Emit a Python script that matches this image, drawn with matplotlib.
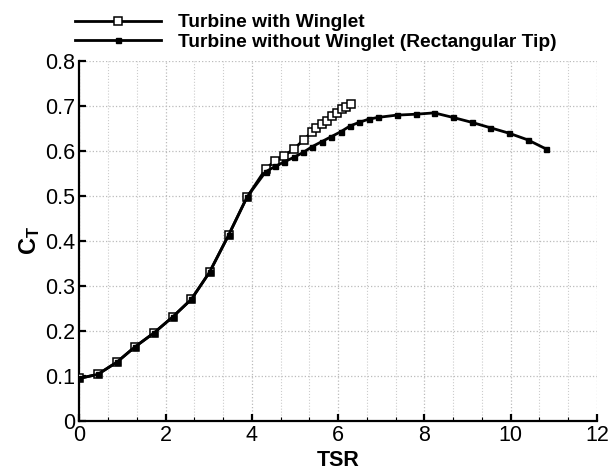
import matplotlib
matplotlib.use("Agg")
import matplotlib.pyplot as plt
from matplotlib.ticker import MultipleLocator

plt.rcParams['font.family'] = ['Liberation Sans', 'DejaVu Sans']
plt.rcParams['mathtext.fontset'] = 'custom'
plt.rcParams['mathtext.rm'] = 'Liberation Sans'
plt.rcParams['mathtext.bf'] = 'Liberation Sans:bold'
plt.rcParams['mathtext.it'] = 'Liberation Sans:italic'

# Turbine with winglet
tsr_winglet = [0.0, 0.43, 0.87, 1.29, 1.73, 2.17, 2.60, 3.02, 3.46, 3.89, 4.32,
               4.54, 4.75, 4.98, 5.20, 5.40, 5.50, 5.62, 5.74, 5.87, 5.98, 6.09, 6.19, 6.29]
ct_winglet = [0.094, 0.103, 0.130, 0.164, 0.195, 0.231, 0.270, 0.330, 0.412, 0.497, 0.559,
              0.578, 0.589, 0.604, 0.624, 0.642, 0.650, 0.659, 0.667, 0.676, 0.684, 0.693, 0.697, 0.703]

# Turbine without winglet (rectangular tip)
tsr_rect = [0.0, 0.43, 0.87, 1.29, 1.73, 2.17, 2.60, 3.02, 3.46, 3.89, 4.32,
            4.54, 4.75, 4.97, 5.19, 5.40, 5.62, 5.84, 6.06, 6.28, 6.49, 6.71, 6.93,
            7.36, 7.80, 8.23, 8.66, 9.10, 9.53, 9.96, 10.40, 10.82]
ct_rect = [0.094, 0.103, 0.130, 0.164, 0.195, 0.231, 0.270, 0.330, 0.412, 0.497, 0.553,
           0.565, 0.575, 0.585, 0.596, 0.609, 0.620, 0.631, 0.642, 0.655, 0.663, 0.670, 0.674,
           0.679, 0.681, 0.684, 0.674, 0.663, 0.651, 0.639, 0.624, 0.604]

labels = ['Turbine with Winglet', 'Turbine without Winglet (Rectangular Tip)']

fig = plt.figure(figsize=(6.09, 4.70), dpi=100)
ax = fig.add_axes([0.1302, 0.1049, 0.8498, 0.766])

l1, = ax.plot(tsr_winglet, ct_winglet, color='black', lw=2.0, marker='s', ms=5.2,
              mfc='white', mec='black', mew=1.1, label=labels[0], zorder=3)
l2, = ax.plot(tsr_rect, ct_rect, color='black', lw=2.0, marker='s', ms=3.6,
              mfc='black', mec='black', label=labels[1], zorder=4)

ax.set_xlim(0, 12)
ax.set_ylim(0, 0.8)
ax.xaxis.set_major_locator(MultipleLocator(2))
ax.xaxis.set_minor_locator(MultipleLocator(2/3))
ax.set_yticks([0, 0.1, 0.2, 0.3, 0.4, 0.5, 0.6, 0.7, 0.8])
ax.set_yticklabels(['0', '0.1', '0.2', '0.3', '0.4', '0.5', '0.6', '0.7', '0.8'])

ax.grid(True, which='major', color='#bbbbbb', ls=':', lw=0.9)
ax.grid(True, which='minor', axis='x', color='#cccccc', ls=':', lw=0.8)
ax.set_axisbelow(True)

for s in ['top', 'right']:
    ax.spines[s].set_visible(False)
for s in ['left', 'bottom']:
    ax.spines[s].set_linewidth(1.6)

ax.tick_params(which='major', direction='in', length=5, width=1.6, labelsize=15.5, pad=3)
ax.tick_params(which='minor', direction='in', length=3, width=0.8)
ax.tick_params(axis='y', which='minor', left=False)

ax.set_xlabel('TSR', fontsize=15.5, fontweight='bold', labelpad=3)
ax.set_ylabel(r'$\mathbf{C_T}$', fontsize=17, labelpad=2)

fig.legend(handles=[l1, l2], labels=labels, loc='upper left',
           bbox_to_anchor=(0.1005, 0.999), frameon=False, handlelength=4.5,
           handletextpad=0.9, labelspacing=0.12, borderpad=0.2,
           prop={'weight': 'bold', 'size': 13.8})

fig.savefig('out.png', dpi=100)
